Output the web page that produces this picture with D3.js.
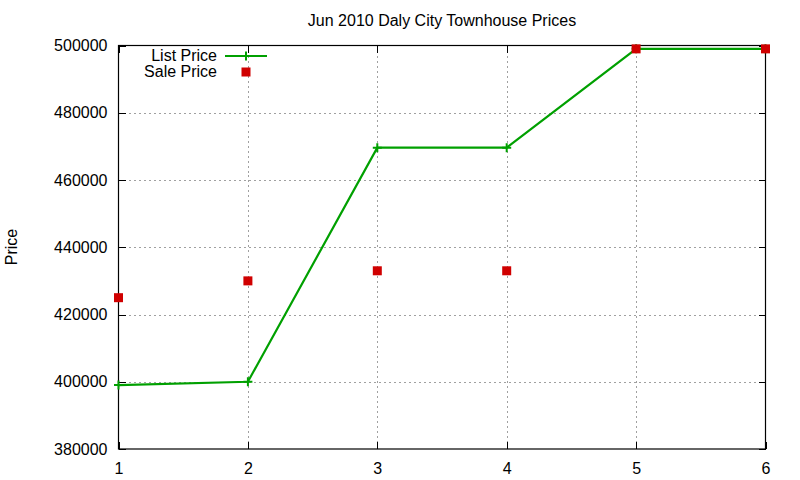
<!DOCTYPE html>
<html>
<head>
<meta charset="utf-8">
<script src="https://cdn.jsdelivr.net/npm/d3@7"></script>
<style>
  html, body { margin: 0; padding: 0; background: #fff; }
  svg { display: block; font-family: "Liberation Sans", Arial, sans-serif; }
</style>
</head>
<body>
<svg id="chart" width="800" height="480"></svg>
<script>
const title = "Jun 2010 Daly City Townhouse Prices";
const yLabel = "Price";
const xValues = [1, 2, 3, 4, 5, 6];
const listPrice = [399000, 400000, 469600, 469600, 499000, 499000];
const salePrice = [425000, 430000, 433000, 433000, 499000, 499000];
const yTicks = [380000, 400000, 420000, 440000, 460000, 480000, 500000];
const xTicks = [1, 2, 3, 4, 5, 6];
const seriesNames = ["List Price", "Sale Price"];

const svg = d3.select("#chart");
const L = 118.5, R = 765.5, T = 45.5, B = 449;
const x = d3.scaleLinear().domain([1, 6]).range([L, R]);
const y = d3.scaleLinear().domain([380000, 500000]).range([B, T]);
const green = "#00a000", red = "#d00000";

// grid
const grid = svg.append("g").attr("stroke", "#a0a0a0").attr("stroke-width", 1)
  .attr("stroke-dasharray", "2,3").attr("shape-rendering", "crispEdges");
grid.selectAll("line.h").data(yTicks.filter(v => v > 380000 && v < 500000)).join("line")
  .attr("x1", L).attr("x2", R).attr("y1", d => Math.round(y(d)) + 0.5).attr("y2", d => Math.round(y(d)) + 0.5);
grid.selectAll("line.v").data(xTicks.filter(v => v > 1 && v < 6)).join("line")
  .attr("y1", T).attr("y2", B).attr("x1", d => Math.round(x(d)) + 0.5).attr("x2", d => Math.round(x(d)) + 0.5);

// axes
const yAxis = d3.axisLeft(y).tickValues(yTicks).tickFormat(d3.format("d")).tickSizeInner(-7).tickSizeOuter(0).tickPadding(11);
const yAxisR = d3.axisRight(y).tickValues(yTicks).tickFormat("").tickSizeInner(-7).tickSizeOuter(0);
const xAxis = d3.axisBottom(x).tickValues(xTicks).tickFormat(d3.format("d")).tickSizeInner(-7).tickSizeOuter(0).tickPadding(14);
const xAxisT = d3.axisTop(x).tickValues(xTicks).tickFormat("").tickSizeInner(-7).tickSizeOuter(0);

function styleAxis(g) {
  g.select(".domain").remove();
  g.selectAll("line").attr("stroke", "#000").attr("shape-rendering", "crispEdges");
  g.selectAll("text").attr("fill", "#000").style("font-size", "16px").style("font-family", "Liberation Sans, Arial, sans-serif");
}
svg.append("g").attr("transform", `translate(${L},0)`).call(yAxis).call(styleAxis);
svg.append("g").attr("transform", `translate(${R},0)`).call(yAxisR).call(styleAxis);
svg.append("g").attr("transform", `translate(0,${B})`).call(xAxis).call(styleAxis);
svg.append("g").attr("transform", `translate(0,${T})`).call(xAxisT).call(styleAxis);

// frame
svg.append("rect").attr("x", L).attr("y", T).attr("width", R - L).attr("height", B - T)
  .attr("fill", "none").attr("stroke", "#000").attr("stroke-width", 1.2);

// title & label
svg.append("text").attr("x", (L + R) / 2).attr("y", 26).attr("text-anchor", "middle")
  .style("font-size", "16px").text(title);
svg.append("text").attr("transform", "translate(17,247) rotate(-90)").attr("text-anchor", "middle")
  .style("font-size", "16px").text(yLabel);

// list price line
const pts = xValues.map((d, i) => [d, listPrice[i]]);
svg.append("path").datum(pts)
  .attr("d", d3.line().x(d => x(d[0])).y(d => y(d[1])))
  .attr("fill", "none").attr("stroke", green).attr("stroke-width", 2.2);
function plusPath(cx, cy, s) {
  return `M${cx - s},${cy}H${cx + s}M${cx},${cy - s}V${cy + s}`;
}
svg.append("g").selectAll("path").data(pts).join("path")
  .attr("d", d => plusPath(x(d[0]), y(d[1]), 4.5))
  .attr("stroke", green).attr("stroke-width", 2).attr("fill", "none");

// sale price squares
const spts = xValues.map((d, i) => [d, salePrice[i]]);
svg.append("g").selectAll("rect").data(spts).join("rect")
  .attr("x", d => x(d[0]) - 4.5).attr("y", d => y(d[1]) - 4.5)
  .attr("width", 9).attr("height", 9).attr("fill", red);

// legend
const lg = svg.append("g");
lg.append("text").attr("x", 217).attr("y", 61).attr("text-anchor", "end").style("font-size", "16px").text(seriesNames[0]);
lg.append("text").attr("x", 217).attr("y", 77).attr("text-anchor", "end").style("font-size", "16px").text(seriesNames[1]);
lg.append("line").attr("x1", 225).attr("x2", 267).attr("y1", 56).attr("y2", 56).attr("stroke", green).attr("stroke-width", 2.2);
lg.append("path").attr("d", plusPath(246, 56, 4.5)).attr("stroke", green).attr("stroke-width", 2);
lg.append("rect").attr("x", 241.5).attr("y", 67.5).attr("width", 9).attr("height", 9).attr("fill", red);
</script>
</body>
</html>
